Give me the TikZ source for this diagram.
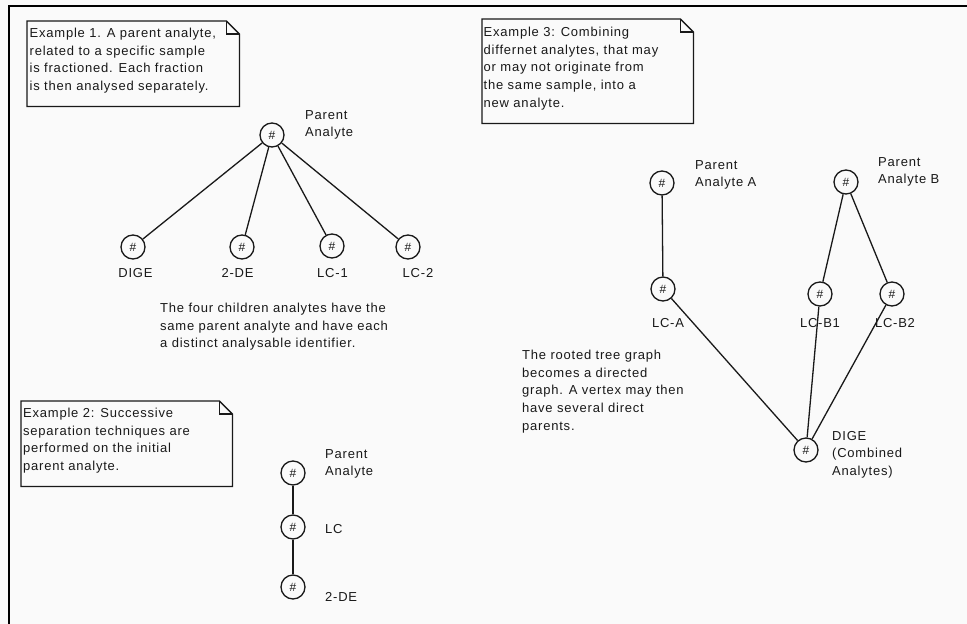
\documentclass[tikz,border=0pt]{standalone}
\usepackage{fontspec}
\setmainfont{Liberation Sans}[LetterSpace=6]
\usetikzlibrary{calc}
\definecolor{paper}{RGB}{250,250,250}
\definecolor{ink}{RGB}{25,25,25}

% outline of a note with a folded top-right corner, drawn round a named node
\newcommand\dogear[2]{%
  \draw[noteline] (#1.south west) -- (#1.north west) -- ($(#1.north east)+(-#2,0)$)
    -- ($(#1.north east)+(0,#2)$) -- (#1.south east) -- cycle;
  \draw[noteline] ($(#1.north east)+(-#2,0)$) |- ($(#1.north east)+(0,#2)$);
}

\begin{document}
\begin{tikzpicture}[x=1pt,y=-1pt,
  every node/.style={font=\fontsize{13}{17.6}\selectfont, text=ink},
  vertex/.style={circle, draw=ink, line width=1.3pt, minimum size=24pt, inner sep=0pt,
                 font=\fontsize{12}{12}\selectfont},
  link/.style={draw=ink, line width=1.3pt},
  lbl/.style={inner sep=0pt, align=left, anchor=north west},
  clbl/.style={inner sep=0pt, anchor=north},
  notebox/.style={draw=none, inner sep=0pt, anchor=north west},
  noteline/.style={draw=ink, line width=1.3pt, line join=miter},
  frame/.style={line width=2.6pt, draw=black, line join=miter}
]
\useasboundingbox[fill=paper] (0,0) rectangle (967,624);

% frame along the top and left edges
\draw[frame] (9,624) -- (9,6) -- (967,6);

% ---------- Example 1: one parent, four fractions ----------
\node[notebox, minimum width=212pt, minimum height=85pt] (note1) at (27,21) {};
\dogear{note1}{13}
\node[lbl] (note1txt) at (29.5,28) {Example 1. A parent analyte,\\related to a specific sample\\is fractioned. Each fraction\\is then analysed separately.};

\node[vertex] (p1) at (272,135) {\#};
\node[vertex] (c1) at (133,247) {\#};
\node[vertex] (c2) at (242,247) {\#};
\node[vertex] (c3) at (332,246) {\#};
\node[vertex] (c4) at (408,247) {\#};
\foreach \c in {c1,c2,c3,c4} \draw[link] (p1) -- (\c);

\node[lbl] (p1lbl) at (305,110) {Parent\\Analyte};
\node[clbl] (c1lbl) at (135.5,268) {DIGE};
\node[clbl] (c2lbl) at (237.5,268) {2-DE};
\node[clbl] (c3lbl) at (332.5,268) {LC-1};
\node[clbl] (c4lbl) at (418,268) {LC-2};

\node[lbl] (cap1) at (160,303) {The four children analytes have the\\same parent analyte and have each\\a distinct analysable identifier.};

% ---------- Example 2: successive separations ----------
\node[notebox, minimum width=211pt, minimum height=85pt] (note2) at (21,401) {};
\dogear{note2}{13}
\node[lbl] (note2txt) at (23,408) {Example 2: Successive\\separation techniques are\\performed on the initial\\parent analyte.};

\node[vertex] (p2) at (293,473) {\#};
\node[vertex] (lc2) at (293,527) {\#};
\node[vertex] (de2) at (293,587) {\#};
\draw[link] (p2) -- (lc2);
\draw[link] (lc2) -- (de2);

\node[lbl] (p2lbl) at (325,449) {Parent\\Analyte};
\node[lbl] (lc2lbl) at (325,524) {LC};
\node[lbl] (de2lbl) at (325,592) {2-DE};

% ---------- Example 3: combining analytes ----------
\node[notebox, minimum width=211pt, minimum height=104pt] (note3) at (482,19) {};
\dogear{note3}{13}
\node[lbl] (note3txt) at (483.5,27) {Example 3: Combining\\differnet analytes, that may\\or may not originate from\\the same sample, into a\\new analyte.};

\node[vertex] (pa)   at (662,183) {\#};
\node[vertex] (lca)  at (663,289) {\#};
\node[vertex] (pb)   at (846,182) {\#};
\node[vertex] (lcb1) at (820,294) {\#};
\node[vertex] (lcb2) at (892,294) {\#};
\node[vertex] (dige) at (806,450) {\#};
\draw[link] (pa) -- (lca);
\draw[link] (pb) -- (lcb1);
\draw[link] (pb) -- (lcb2);
\draw[link] (lca) -- (dige);
\draw[link] (lcb1) -- (dige);
\draw[link] (lcb2) -- (dige);

\node[lbl] (palbl) at (695,160) {Parent\\Analyte A};
\node[lbl] (pblbl) at (878,157) {Parent\\Analyte B};
\node[clbl] (lcalbl)  at (668,318) {LC-A};
\node[clbl] (lcb1lbl) at (820,318) {LC-B1};
\node[clbl] (lcb2lbl) at (895,318) {LC-B2};
\node[lbl] (digelbl) at (832,431) {DIGE\\(Combined\\Analytes)};

\node[lbl] (cap3) at (522,350) {The rooted tree graph\\becomes a directed\\graph. A vertex may then\\have several direct\\parents.};
\end{tikzpicture}
\end{document}
